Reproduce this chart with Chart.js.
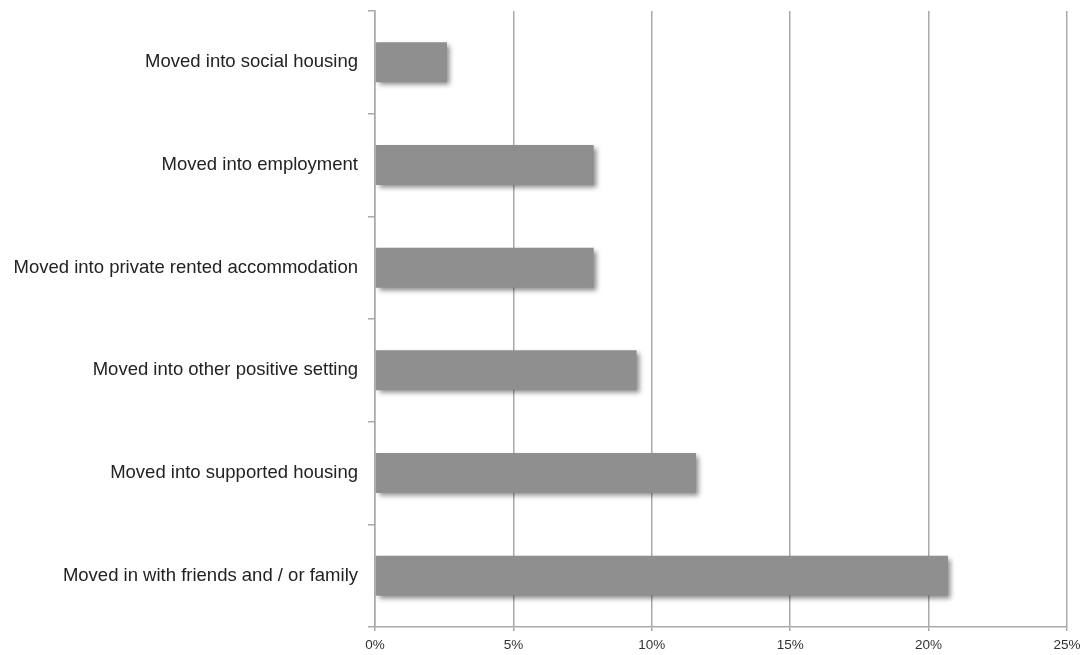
<!DOCTYPE html>
<html>
<head>
<meta charset="utf-8">
<script src="https://cdn.jsdelivr.net/npm/chart.js@4"></script>
<style>
  html, body { margin: 0; padding: 0; background: #fff; }
  #wrap { width: 1082px; height: 655px; }
</style>
</head>
<body>
<div id="wrap"><canvas id="OutcomeChart"></canvas></div>
<script>
// Categories (top to bottom)
const categories = [
  "Moved into social housing",
  "Moved into employment",
  "Moved into private rented accommodation",
  "Moved into other positive setting",
  "Moved into supported housing",
  "Moved in with friends and / or family",
];
// Share of outcomes, percent
const outcomeValues = [2.6, 7.9, 7.9, 9.45, 11.6, 20.7];
// x axis tick values
const xTicks = [0, 5, 10, 15, 20, 25];

// soft drop shadow under the bars, like the original
const barShadow = {
  id: "barShadow",
  beforeDatasetsDraw(chart) {
    const ctx = chart.ctx;
    ctx.save();
    ctx.shadowColor = "rgba(0, 0, 0, 0.45)";
    ctx.shadowBlur = 5;
    ctx.shadowOffsetX = 3;
    ctx.shadowOffsetY = 3;
  },
  afterDatasetsDraw(chart) {
    chart.ctx.restore();
  },
};

var ctxOutcome = document.getElementById("OutcomeChart").getContext("2d");
var myChartOutcome = new Chart(ctxOutcome, {
  type: "bar",
  data: {
    labels: categories,
    datasets: [
      {
        data: outcomeValues,
        backgroundColor: "#8f8f8f",
        borderWidth: 0,
        categoryPercentage: 1,
        barPercentage: 0.39,
      },
    ],
  },
  plugins: [barShadow],
  options: {
    indexAxis: "y",
    responsive: true,
    maintainAspectRatio: false,
    animation: false,
    layout: { padding: { top: 11, right: 15, left: 0, bottom: 0 } },
    plugins: {
      legend: { display: false },
      tooltip: { enabled: false },
    },
    scales: {
      x: {
        min: 0,
        max: 25,
        afterBuildTicks: (scale) => {
          scale.ticks = xTicks.map((v) => ({ value: v }));
        },
        afterFit: (scale) => {
          scale.paddingRight = 0;
          scale.paddingLeft = 0;
          scale.height = 28;
        },
        ticks: {
          callback: (v) => v + "%",
          color: "#333",
          font: { family: "Liberation Sans", size: 13.5 },
          padding: 6,
          maxRotation: 0,
        },
        grid: {
          color: "#a9a9a9",
          lineWidth: 1.5,
          tickLength: 4,
        },
        border: { color: "#a9a9a9", width: 1.5 },
      },
      y: {
        afterFit: (scale) => {
          scale.width = 375;
          scale.paddingTop = 0;
          scale.paddingBottom = 0;
        },
        ticks: {
          color: "#222",
          font: { family: "Liberation Sans", size: 18.5 },
          padding: 10,
        },
        grid: {
          offset: true,
          drawOnChartArea: false,
          color: "#a9a9a9",
          lineWidth: 1.5,
          tickLength: 7,
        },
        border: { color: "#a9a9a9", width: 1.5 },
      },
    },
  },
});
</script>
</body>
</html>
